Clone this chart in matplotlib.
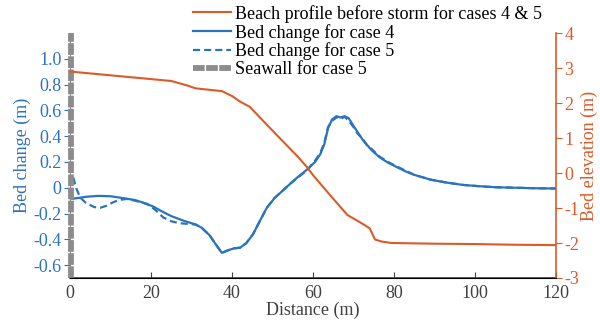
import matplotlib.pyplot as plt
import numpy as np

plt.rcParams['font.family'] = ['Liberation Serif', 'DejaVu Serif']
plt.rcParams['axes.unicode_minus'] = False

# data
dist4 = [0, 1, 4, 7, 10, 13, 16, 18, 20.5, 22.5, 25, 28, 31, 32.5, 34.5, 36, 37.5, 39, 40.5, 42,
         43.5, 45.2, 47, 48.6, 50.5, 52.6, 54.5, 56.5, 58.5, 60.5, 61.8, 62.8, 63.7, 64.7,
         65.8, 66.8, 67.8, 68.8, 70, 72.3, 74.5, 76.5, 78.5, 80.7, 83, 85, 89, 93, 97,
         101, 105, 110, 115, 120]
bed4 = [-0.085, -0.084, -0.07, -0.063, -0.066, -0.08, -0.095, -0.115, -0.145, -0.18, -0.22,
        -0.255, -0.285, -0.31, -0.37, -0.44, -0.505, -0.485, -0.47, -0.465, -0.43, -0.36,
        -0.25, -0.155, -0.08, -0.02, 0.035, 0.09, 0.14, 0.2, 0.26, 0.34, 0.46, 0.53,
        0.555, 0.545, 0.555, 0.54, 0.48, 0.37, 0.29, 0.235, 0.195, 0.16, 0.125, 0.1,
        0.063, 0.04, 0.022, 0.012, 0.004, 0.0, -0.004, -0.006]

dist5 = [0.8, 1.5, 2.5, 4, 6, 7.5, 9, 10.5, 12, 14, 16, 19, 21, 23, 25, 27, 29, 31, 32.5,
         34.5, 36, 37.5, 39, 40.5, 42, 43.5, 45.2, 47, 48.6, 50.5, 52.6, 54.5, 56.5, 58.5,
         60.5, 61.8, 62.8, 63.7, 64.7, 65.8, 66.8, 67.8, 68.8, 70, 71, 72.3, 73.5, 74.5,
         76.5, 78.5, 80.7, 83, 85, 89, 93, 97, 101, 105, 110, 115, 120]
bed5 = [0.08, 0.0, -0.076, -0.12, -0.15, -0.155, -0.14, -0.115, -0.095, -0.087, -0.1,
        -0.125, -0.17, -0.23, -0.26, -0.275, -0.28, -0.285, -0.31, -0.37, -0.44, -0.505,
        -0.485, -0.47, -0.465, -0.43, -0.36, -0.25, -0.155, -0.08, -0.02, 0.035, 0.085,
        0.135, 0.21, 0.27, 0.35, 0.47, 0.52, 0.545, 0.535, 0.55, 0.52, 0.47, 0.42, 0.38,
        0.32, 0.3, 0.24, 0.2, 0.165, 0.13, 0.1, 0.063, 0.04, 0.022, 0.012, 0.004, 0.0,
        -0.004, -0.006]

dist_p = [0, 25, 29, 31, 37.5, 40, 42, 44.4, 50, 56.3, 58.5, 60, 64.2, 68.5, 71.5, 74,
          75.3, 77, 79.5, 90, 100, 110, 120]
elev_p = [2.9, 2.63, 2.5, 2.42, 2.34, 2.2, 2.04, 1.89, 1.21, 0.46, 0.17, -0.06, -0.63,
          -1.2, -1.4, -1.58, -1.9, -1.96, -2.0, -2.02, -2.03, -2.05, -2.06]

seawall_x = [0.35, 0.35]
seawall_y = [-0.7, 1.2]

blue = '#2a73be'
orange = '#dc5a28'
grey = '#404040'

fig = plt.figure(figsize=(6, 3.24), dpi=100)
ax = fig.add_axes([0.1167, 0.142, 0.81, 0.756])
ax2 = ax.twinx()

l4, = ax.plot(dist4, bed4, color=blue, lw=1.6, label='Bed change for case 4')
l5, = ax.plot(dist5, bed5, color=blue, lw=1.6, ls=(0, (3.2, 1.8)), label='Bed change for case 5')
sw, = ax.plot(seawall_x, seawall_y, color='#8c8c8c', lw=4.2, ls=(0, (2, 0.25)),
              clip_on=False, label='Seawall for case 5', zorder=5)
lp, = ax2.plot(dist_p, elev_p, color=orange, lw=1.5,
               label='Beach profile before storm for cases 4 & 5')

ax.set_xlim(0, 120)
ax.set_ylim(-0.7, 1.2)
ax2.set_ylim(-3, 4)
ax.set_xticks([0, 20, 40, 60, 80, 100, 120])
ax.set_yticks([-0.6, -0.4, -0.2, 0, 0.2, 0.4, 0.6, 0.8, 1.0])
ax.set_yticklabels(['-0.6', '-0.4', '-0.2', '0', '0.2', '0.4', '0.6', '0.8', '1.0'])
ax2.set_yticks([-3, -2, -1, 0, 1, 2, 3, 4])

for a in (ax, ax2):
    a.spines['top'].set_visible(False)
ax.spines['left'].set_color('#8c8c8c')
ax.spines['right'].set_visible(False)
ax2.spines['left'].set_visible(False)
ax.spines['bottom'].set_color(grey)
ax.spines['bottom'].set_linewidth(1.2)
ax2.spines['right'].set_color(orange)
ax2.spines['right'].set_linewidth(1.2)

ax.tick_params(axis='x', direction='in', length=4, colors=grey, labelsize=13, pad=5)
ax.tick_params(axis='y', direction='out', length=4, colors=blue, labelsize=13, pad=2)
ax2.tick_params(axis='y', direction='out', length=4, colors=orange, labelsize=13, pad=2)

ax.set_xlabel('Distance (m)', fontsize=13, color=grey, labelpad=0)
ax.set_ylabel('Bed change (m)', fontsize=13, color=blue, labelpad=2)
ax2.set_ylabel('Bed elevation (m)', fontsize=13, color=orange, labelpad=1)

fig.legend(handles=[lp, l4, l5, sw], loc='upper left', bbox_to_anchor=(0.322, 0.985),
           frameon=False, fontsize=13, borderpad=0, borderaxespad=0,
           handlelength=2.1, handletextpad=0.2, labelspacing=0.05)

fig.savefig('out.png', dpi=100)
